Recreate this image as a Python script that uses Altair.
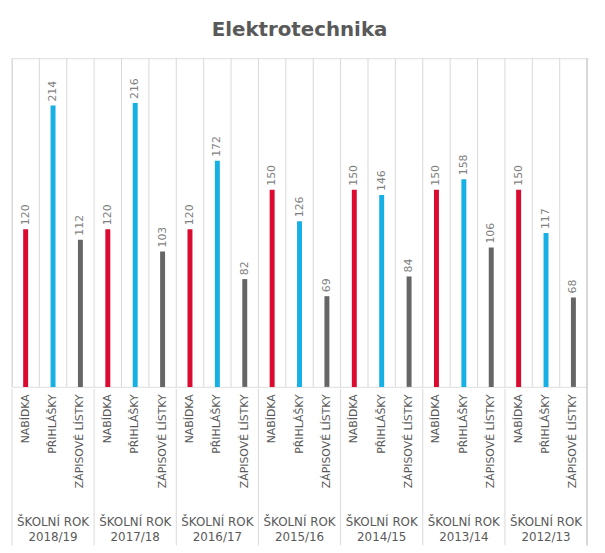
import altair as alt
import pandas as pd

years = ["2018/19", "2017/18", "2016/17", "2015/16", "2014/15", "2013/14", "2012/13"]
measures = ["NABÍDKA", "PŘIHLÁŠKY", "ZÁPISOVÉ LÍSTKY"]
nabidka = [120, 120, 120, 150, 150, 150, 150]
prihlasky = [214, 216, 172, 126, 146, 158, 117]
zapisove = [112, 103, 82, 69, 84, 106, 68]
colors = ["#DA0A30", "#17B0E4", "#666666"]

rows = []
for i, y in enumerate(years):
    for m, vals in zip(measures, [nabidka, prihlasky, zapisove]):
        rows.append({"key": f"{y}|{m}", "year": y, "measure": m, "value": vals[i]})
df = pd.DataFrame(rows)
order = list(df["key"])

groups = pd.DataFrame({
    "start": [f"{y}|{measures[0]}" for y in years],
    "mid": [f"{y}|{measures[1]}" for y in years],
    "label": [f"ŠKOLNÍ ROK\n{y}" for y in years],
})

W, H = 581, 332
FONT = "DejaVu Sans"
GRID = "#d9d9d9"
TXT = "#595959"

xscale = alt.Scale(domain=order, paddingInner=0, paddingOuter=0)

xenc = alt.X(
    "key:N", sort=order, scale=xscale, title=None,
    axis=alt.Axis(
        labelExpr="split(datum.label, '|')[1]",
        labelAngle=-90, labelPadding=7, labelFont=FONT, labelFontSize=11,
        labelColor=TXT, ticks=False, domain=True, domainColor="#e6e6e6",
        grid=False, labelLimit=200,
    ),
)
yscale = alt.Scale(domain=[0, 250])

base = alt.Chart(df)

bars = base.mark_bar(size=5).encode(
    x=xenc,
    y=alt.Y("value:Q", scale=yscale, axis=None),
    color=alt.Color("measure:N", scale=alt.Scale(domain=measures, range=colors), legend=None),
)

labels = base.mark_text(angle=270, align="left", baseline="middle", dx=4,
                        font=FONT, fontSize=11, color="#7f7f7f").encode(
    x=alt.X("key:N", sort=order, scale=xscale),
    y=alt.Y("value:Q", scale=yscale),
    text="value:Q",
)

grid = base.mark_rule(color=GRID, strokeWidth=1).encode(
    x=alt.X("key:N", sort=order, scale=xscale, bandPosition=0),
    y=alt.value(0), y2=alt.value(H),
)

gbase = alt.Chart(groups)
seps = gbase.mark_rule(color=GRID, strokeWidth=1).encode(
    x=alt.X("start:N", sort=order, scale=xscale, bandPosition=0),
    y=alt.value(H + 2), y2=alt.value(H + 160),
)
right_edge = gbase.mark_rule(color=GRID, strokeWidth=1).encode(
    x=alt.value(W), y=alt.value(0), y2=alt.value(H + 160),
)
glabels = gbase.mark_text(lineBreak="\n", baseline="alphabetic", align="center",
                          font=FONT, fontSize=12, color=TXT, lineHeight=15).encode(
    x=alt.X("mid:N", sort=order, scale=xscale),
    y=alt.value(H + 141),
    text="label:N",
)

chart = alt.layer(grid, seps, right_edge, bars, labels, glabels).properties(
    width=W, height=H,
    autosize=alt.AutoSizeParams(type="none"),
    padding={"left": 4, "top": 48, "right": 10, "bottom": 160},
    title=alt.Title("Elektrotechnika", font="DejaVu Sans", fontSize=20,
                    fontWeight="bold", color=TXT, offset=18, anchor="middle"),
).configure_view(stroke=None).configure(background="white")

chart.save("out.html", embed_options={"renderer": "svg", "actions": False})
